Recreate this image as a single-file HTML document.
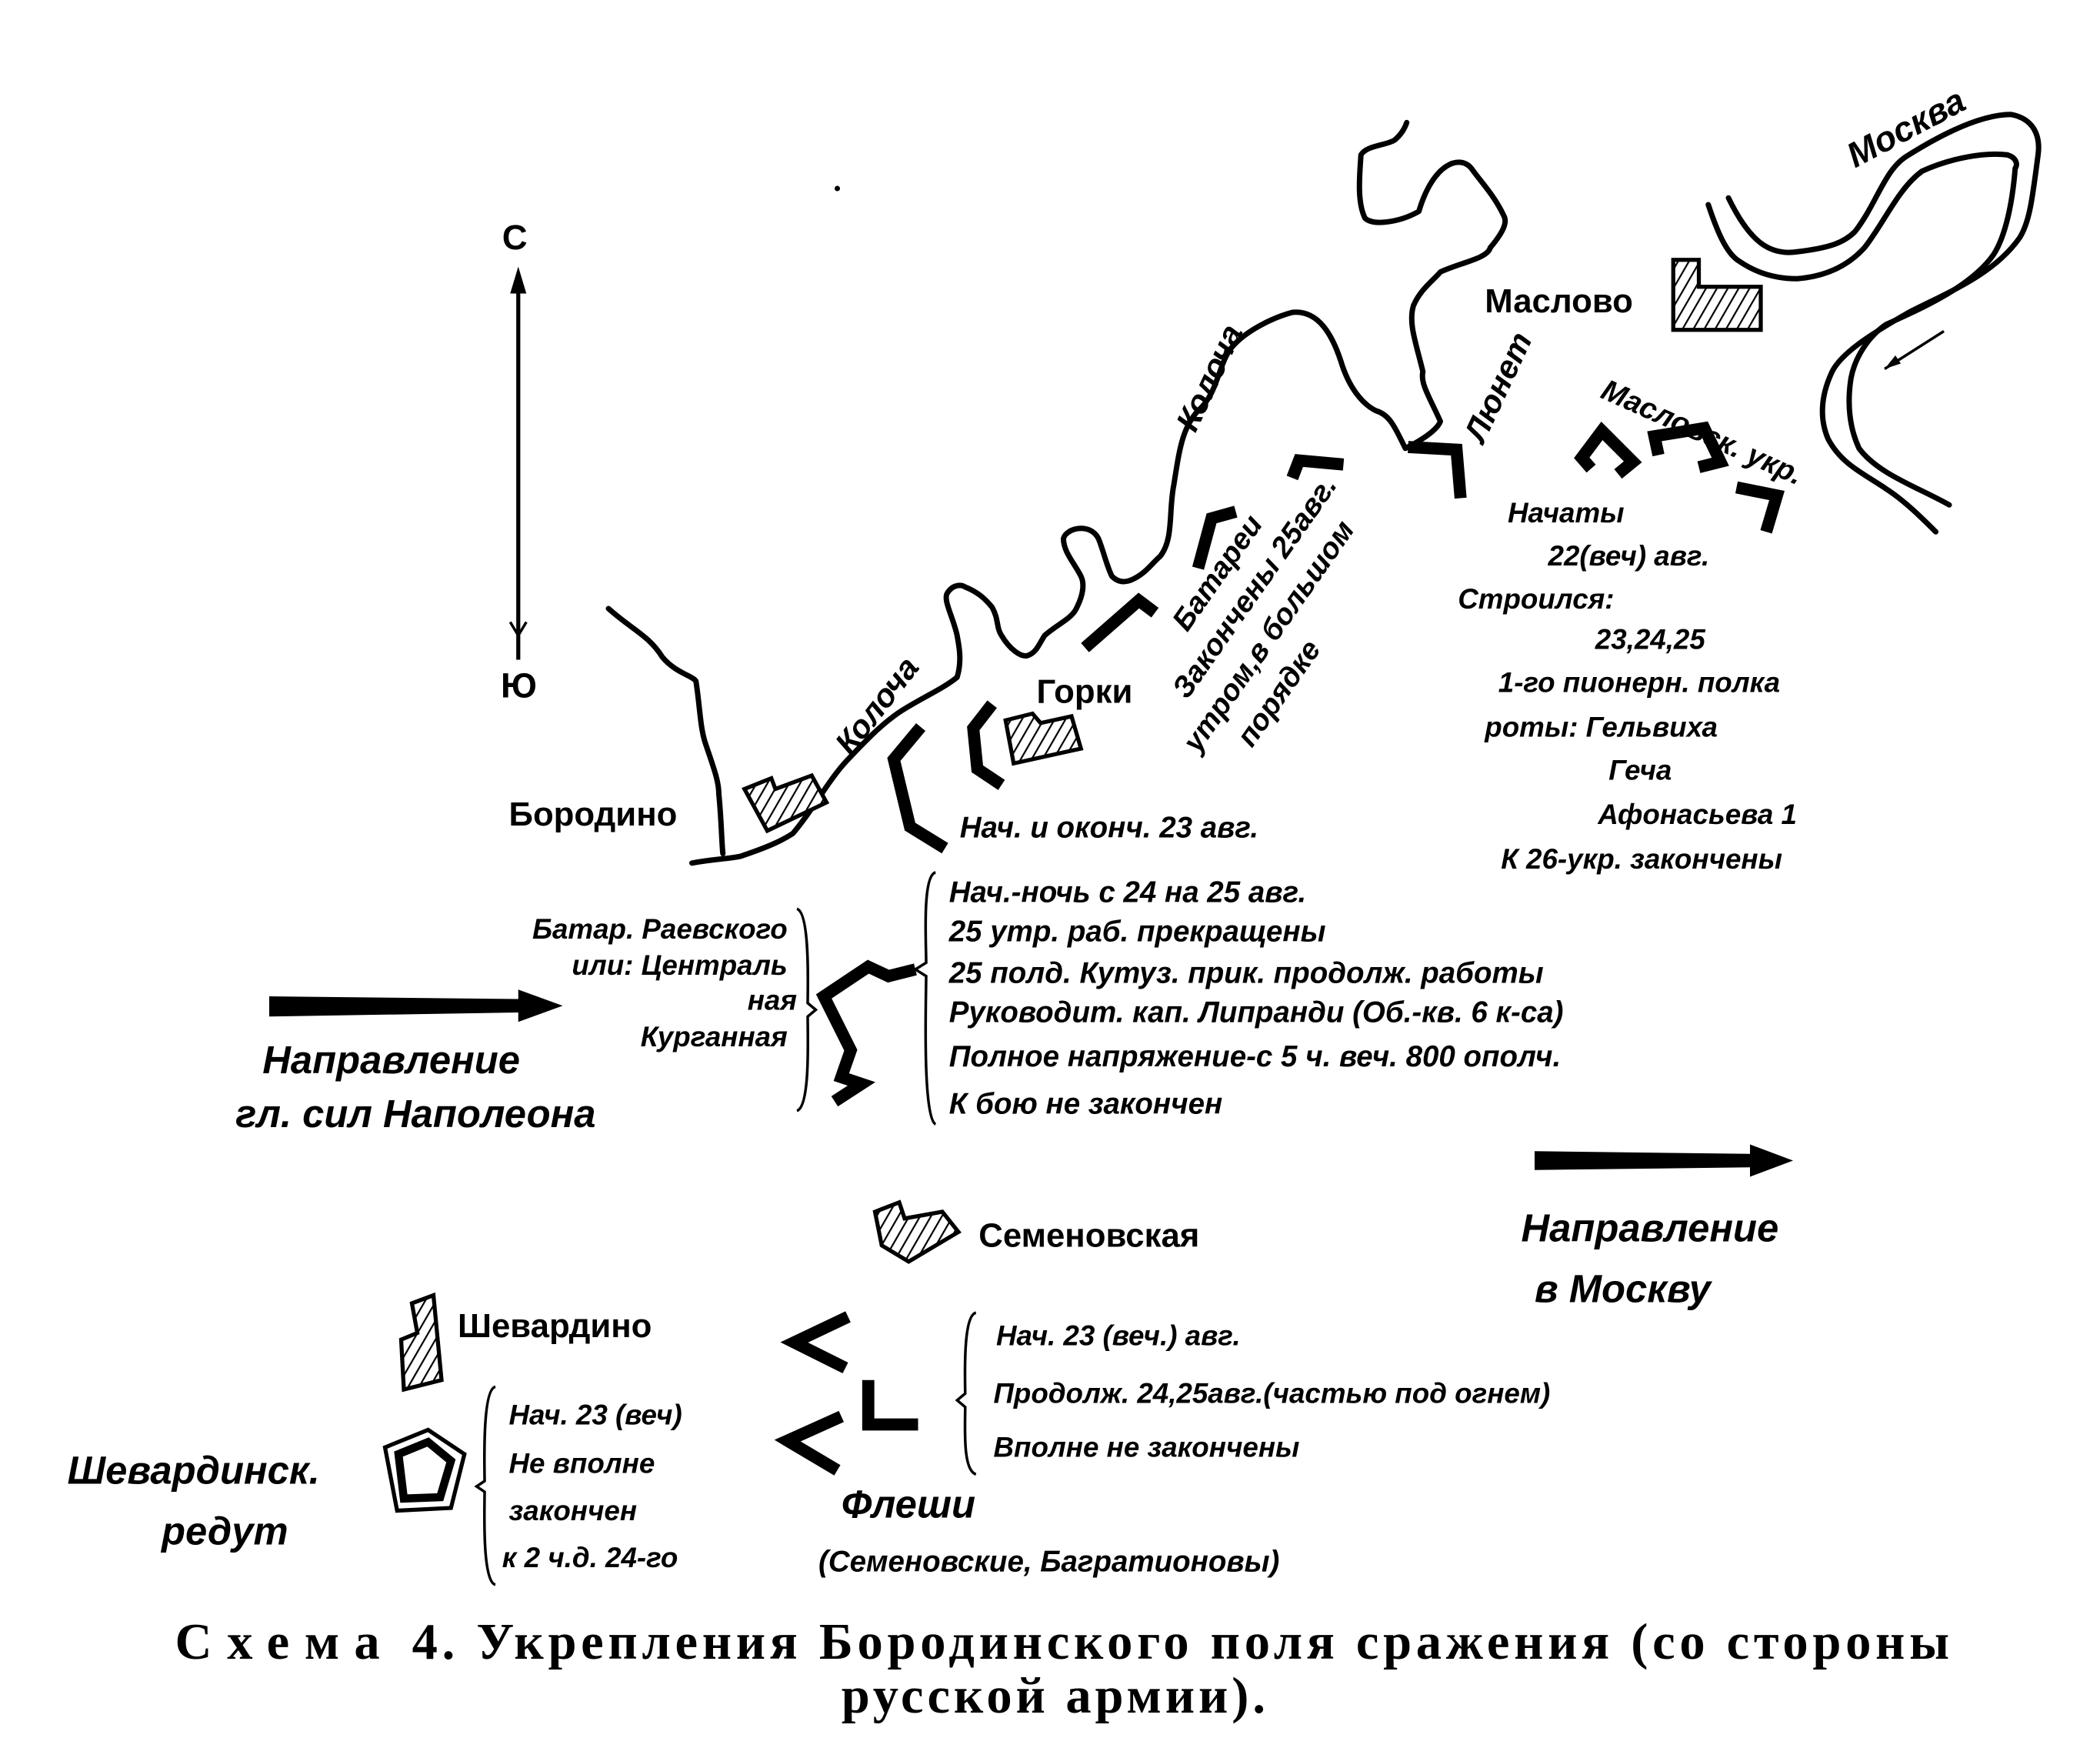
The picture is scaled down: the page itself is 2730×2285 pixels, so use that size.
<!DOCTYPE html>
<html><head><meta charset="utf-8"><style>
html,body{margin:0;padding:0;background:#fff}
svg{display:block}
.t{font-family:"Liberation Sans",sans-serif;font-style:italic;font-weight:bold;fill:#000}
.r{font-family:"Liberation Sans",sans-serif;font-weight:bold;fill:#000}
.c{font-family:"Liberation Serif",serif;font-weight:bold;fill:#000}
.f{fill:none;stroke:#000;stroke-width:9;stroke-linejoin:miter}
.w{fill:none;stroke:#000;stroke-width:4;stroke-linecap:round;stroke-linejoin:round}
.b{fill:none;stroke:#000;stroke-width:2}
</style></head><body>
<svg width="2730" height="2285" viewBox="0 0 1560 1305.7" xmlns="http://www.w3.org/2000/svg">
<defs>
<pattern id="h" width="7" height="7" patternUnits="userSpaceOnUse" patternTransform="rotate(30)">
<rect width="7" height="7" fill="#fff"/><line x1="0" y1="0" x2="0" y2="7" stroke="#000" stroke-width="2.5"/></pattern>
</defs>
<circle cx="622" cy="140" r="2"/>
<text class="r" x="373" y="185" font-size="26">С</text>
<line x1="385" y1="205" x2="385" y2="490" stroke="#000" stroke-width="3"/>
<polygon points="385,198 379,218 391,218"/>
<polyline points="379,462 385,472 391,462" fill="none" stroke="#000" stroke-width="2"/>
<text class="r" x="372" y="518" font-size="26">Ю</text>
<path class="w" d="M1284,147 C1300,180 1315,190 1335,187 C1360,184 1370,180 1378,172 C1395,150 1400,125 1418,115 C1450,95 1475,85 1494,85 C1510,88 1516,100 1514,115 C1510,145 1508,165 1500,177 C1480,205 1445,218 1418,232 C1390,248 1368,262 1361,276 C1352,295 1352,312 1358,326 C1368,345 1385,352 1401,363 C1415,372 1428,385 1438,395"/>
<path class="w" d="M1269,152 C1275,170 1282,188 1292,194 C1305,203 1320,207 1335,207 C1360,205 1375,195 1385,184 C1400,165 1410,140 1428,127 C1450,117 1475,113 1491,115 C1498,117 1499,122 1497,125 C1495,150 1490,175 1481,189 C1465,212 1430,228 1401,241 C1388,250 1378,265 1375,281 C1372,300 1374,318 1381,333 C1395,352 1425,362 1448,375" stroke-width="3"/>
<line x1="1444" y1="246" x2="1400" y2="274" stroke="#000" stroke-width="2"/>
<polygon points="1400,274 1408,264 1412,270"/>
<text class="t" font-size="26" transform="translate(1378,125) rotate(-28)">Москва</text>
<path class="w" d="M514,641 C530,638 540,638 550,636 C568,630 580,625 589,619 C605,600 615,580 629,565 C645,548 655,538 668,529 C685,518 700,512 711,503 C715,490 712,478 711,472 C708,458 700,445 704,440 C708,434 714,434 717,436 C727,440 732,445 737,451 C742,460 740,466 744,472 C750,482 758,488 763,487 C770,485 772,478 776,472 C785,464 795,460 799,453 C806,440 805,432 803,428 C798,418 790,410 790,400 C792,392 810,388 816,400 C820,410 822,420 826,428 C832,434 838,432 842,430 C852,425 856,418 862,413 C872,400 868,380 872,360 C876,335 878,318 890,305 C905,292 905,270 915,258 C925,246 945,236 960,232 C980,230 990,250 996,268 C1002,288 1012,300 1022,305 C1032,308 1035,315 1044,333 M1044,333 C1060,325 1068,318 1070,313 C1062,295 1055,285 1057,276 C1052,255 1046,240 1050,227 C1055,215 1065,208 1070,202 C1085,195 1105,192 1107,184 C1117,172 1120,165 1117,160 C1110,145 1100,135 1093,125 C1085,115 1065,120 1054,157 C1040,165 1020,168 1014,162 C1008,150 1010,130 1011,115 C1015,108 1030,108 1036,104 C1042,99 1044,94 1045,91"/>
<path class="w" d="M452,452 C470,468 482,472 492,488 C502,500 515,502 517,506 C520,525 520,540 524,552 C530,570 534,580 534,590 C536,610 536,625 537,634" stroke-width="2.5"/>
<text class="t" font-size="24" transform="translate(632,562) rotate(-52)">Колоча</text>
<text class="t" font-size="24" transform="translate(888,322) rotate(-65)">Колоча</text>
<text class="t" font-size="24" transform="translate(1102,330) rotate(-65)">Люнет</text>
<text class="t" font-size="22" transform="translate(1188,295) rotate(24)">Масловск. укр.</text>
<path d="M1243,193 L1262,193 L1262,213 L1308,213 L1308,245 L1243,245 Z" fill="url(#h)" stroke="#000" stroke-width="3"/>
<path d="M553,586 L573,578 L576,586 L603,576 L614,596 L570,617 Z" fill="url(#h)" stroke="#000" stroke-width="3"/>
<path d="M747,535 L767,530 L773,537 L796,532 L803,556 L753,567 Z" fill="url(#h)" stroke="#000" stroke-width="3"/>
<path d="M650,900 L668,893 L672,905 L700,900 L712,915 L675,937 L655,925 Z" fill="url(#h)" stroke="#000" stroke-width="3"/>
<path d="M306,968 L322,962 L328,1025 L300,1032 L298,995 L310,990 Z" fill="url(#h)" stroke="#000" stroke-width="3"/>
<text class="r" x="1103" y="232" font-size="25">Маслово</text>
<text class="r" x="770" y="522" font-size="25">Горки</text>
<text class="r" x="378" y="613" font-size="25">Бородино</text>
<text class="r" x="727" y="926" font-size="25">Семеновская</text>
<text class="r" x="340" y="993" font-size="25">Шевардино</text>
<polyline class="f" points="684,540 664,564 676,614 702,630" stroke-width="10"/>
<polyline class="f" points="737,523 723,541 726,571 744,583" stroke-width="8"/>
<polyline class="f" points="806,481 846,446 858,455"/>
<polyline class="f" points="890,422 900,385 918,380"/>
<polyline class="f" points="960,355 965,342 998,345"/>
<polyline class="f" points="1046,332 1082,334 1085,370"/>
<polyline class="f" points="1182,348 1175,340 1190,320 1213,343 1202,352"/>
<polyline class="f" points="1232,338 1229,324 1266,318 1278,343 1262,347"/>
<polyline class="f" points="1290,362 1320,368 1312,395"/>
<polyline class="f" points="680,720 660,725 645,718 612,740 632,780 625,800 640,805 620,818"/>
<polyline class="f" points="630,978 590,997 628,1016"/>
<polyline class="f" points="625,1052 585,1070 622,1092"/>
<polyline class="f" points="645,1025 645,1058 682,1058"/>
<polygon points="286,1075 318,1062 345,1080 335,1120 295,1122" fill="none" stroke="#000" stroke-width="3"/>
<polygon points="296,1080 318,1071 335,1085 327,1112 300,1113" fill="none" stroke="#000" stroke-width="6"/>
<text class="t" font-size="22" transform="translate(882,470) rotate(-55)">Батареи</text>
<text class="t" font-size="22" transform="translate(882,520) rotate(-55)">Закончены 25авг.</text>
<text class="t" font-size="22" transform="translate(890,560) rotate(-55)">утром,в большом</text>
<text class="t" font-size="22" transform="translate(930,556) rotate(-55)">порядке</text>
<g class="t" font-size="21">
<text x="1120" y="388">Начаты</text>
<text x="1150" y="420">22(веч) авг.</text>
<text x="1083" y="452">Строился:</text>
<text x="1185" y="482">23,24,25</text>
<text x="1113" y="514">1-го пионерн. полка</text>
<text x="1103" y="547">роты: Гельвиха</text>
<text x="1195" y="579">Геча</text>
<text x="1187" y="612">Афонасьева 1</text>
<text x="1115" y="645">К 26-укр. закончены</text>
</g>
<g class="t" font-size="22">
<text x="713" y="622">Нач. и оконч. 23 авг.</text>
<text x="705" y="670">Нач.-ночь с 24 на 25 авг.</text>
<text x="705" y="699">25 утр. раб. прекращены</text>
<text x="705" y="730">25 полд. Кутуз. прик. продолж. работы</text>
<text x="705" y="759">Руководит. кап. Липранди (Об.-кв. 6 к-са)</text>
<text x="705" y="792">Полное напряжение-с 5 ч. веч. 800 ополч.</text>
<text x="705" y="827">К бою не закончен</text>
</g>
<path class="b" d="M695,648 C685,650 688,700 688,715 L680,720 L688,725 C688,740 685,830 695,835"/>
<g class="t" font-size="21" text-anchor="end">
<text x="585" y="697">Батар. Раевского</text>
<text x="585" y="724">или: Централь</text>
<text x="592" y="750">ная</text>
<text x="585" y="777">Курганная</text>
</g>
<path class="b" d="M592,675 C602,678 600,735 600,745 L606,750 L600,755 C600,770 602,822 592,825"/>
<polygon points="200,740 385,742 385,735 418,747 385,759 385,752 200,755"/>
<polygon points="1140,855 1300,857 1300,850 1332,862 1300,874 1300,867 1140,869"/>
<text class="t" x="195" y="797" font-size="29">Направление</text>
<text class="t" x="175" y="837" font-size="29">гл. сил Наполеона</text>
<text class="t" x="1130" y="922" font-size="29">Направление</text>
<text class="t" x="1140" y="967" font-size="29">в Москву</text>
<text class="t" x="50" y="1102" font-size="29">Шевардинск.</text>
<text class="t" x="120" y="1147" font-size="29">редут</text>
<path class="b" d="M368,1030 C358,1032 360,1090 360,1100 L354,1104 L360,1108 C360,1120 358,1175 368,1177"/>
<g class="t" font-size="21">
<text x="378" y="1058">Нач. 23 (веч)</text>
<text x="378" y="1094">Не вполне</text>
<text x="378" y="1129">закончен</text>
<text x="373" y="1164">к 2 ч.д. 24-го</text>
</g>
<path class="b" d="M725,975 C715,977 717,1025 717,1035 L711,1040 L717,1045 C717,1060 715,1092 725,1095"/>
<g class="t" font-size="21">
<text x="740" y="999">Нач. 23 (веч.) авг.</text>
<text x="738" y="1042">Продолж. 24,25авг.(частью под огнем)</text>
<text x="738" y="1082">Вполне не закончены</text>
</g>
<text class="t" x="625" y="1127" font-size="29">Флеши</text>
<text class="t" x="608" y="1167" font-size="22">(Семеновские, Багратионовы)</text>
<text class="c" x="130" y="1232" font-size="38" textLength="1318" lengthAdjust="spacing"><tspan letter-spacing="8">Схема</tspan> 4. Укрепления Бородинского поля сражения (со стороны</text>
<text class="c" x="625" y="1272" font-size="38" textLength="315" lengthAdjust="spacing">русской армии).</text>
</svg>
</body></html>
